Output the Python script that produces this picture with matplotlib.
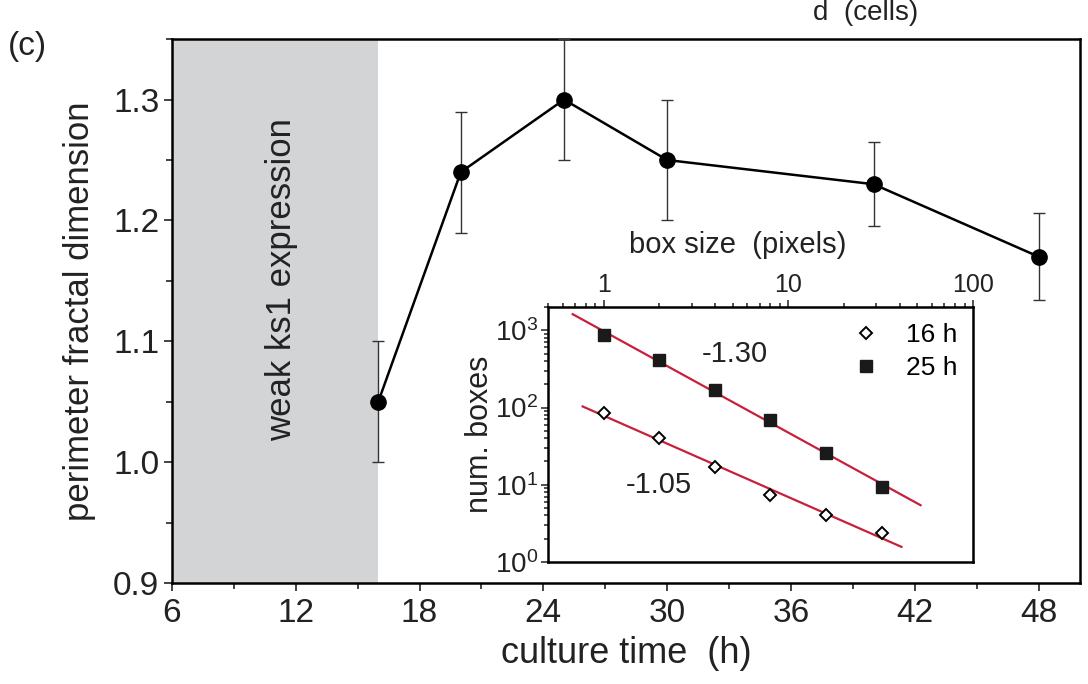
import numpy as np
import matplotlib
matplotlib.use("Agg")
import matplotlib.pyplot as plt
from matplotlib.ticker import MultipleLocator, LogLocator, NullFormatter

plt.rcParams['font.family'] = ['Liberation Sans', 'DejaVu Sans']

# main panel: fractal dimension vs culture time
hours = [16, 20, 25, 30, 40, 48]
dim = [1.05, 1.24, 1.30, 1.25, 1.23, 1.17]
dim_err = [0.05, 0.05, 0.05, 0.05, 0.035, 0.036]
weak_span = (6, 16)

# inset: box counting
box = [1, 2, 4, 8, 16, 32]
n16 = [84, 40, 17, 7.4, 4.1, 2.35]
n25 = [865, 410, 171, 69, 25.5, 9.4]
fit16_range = [0.77, 41]
fit25_range = [0.68, 52]

txt = '#222222'

fig = plt.figure(figsize=(10.88, 6.84), dpi=100)
ax = fig.add_axes([0.158, 0.1477, 0.8346, 0.795])

ax.axvspan(weak_span[0], weak_span[1], color='#d3d4d6', lw=0, zorder=0)
ax.errorbar(hours, dim, yerr=dim_err, color='black', lw=1.8, marker='o', ms=11,
            ecolor='#333333', elinewidth=1.0, capsize=4, capthick=1.0, zorder=3)
ax.text(11.3, 1.151, 'weak ks1 expression', rotation=90, ha='center', va='center',
        fontsize=25, color=txt)

ax.set_xlim(6, 50)
ax.set_ylim(0.9, 1.35)
ax.xaxis.set_major_locator(MultipleLocator(6))
ax.xaxis.set_minor_locator(MultipleLocator(3))
ax.yaxis.set_major_locator(MultipleLocator(0.1))
ax.yaxis.set_minor_locator(MultipleLocator(0.05))
ax.tick_params(which='both', direction='out', width=1.2, labelsize=24, colors=txt)
ax.tick_params(axis='x', pad=5)
ax.tick_params(axis='y', pad=3)
ax.tick_params(which='major', length=6)
ax.tick_params(which='minor', length=4)
for s in ax.spines.values():
    s.set_linewidth(1.8)
ax.set_xlabel('culture time  (h)', fontsize=26, labelpad=5, color=txt)
ax.set_ylabel('perimeter fractal dimension', fontsize=25, labelpad=12, color=txt)

fig.text(8 / 1088, 1 - 47 / 684, '(c)', fontsize=24, ha='left', va='center', color=txt)
fig.text(813 / 1088, 1.0, 'd  (cells)', fontsize=20, ha='left', va='top', color=txt)

# inset
ins = fig.add_axes([548 / 1088, 1 - 562 / 684, 425 / 1088, 255 / 684])
ins.set_xscale('log')
ins.set_yscale('log')

for n, rng in [(n16, fit16_range), (n25, fit25_range)]:
    k, b = np.polyfit(np.log10(box), np.log10(n), 1)
    xf = np.array(rng)
    ins.plot(xf, 10 ** (k * np.log10(xf) + b), color='#c8203c', lw=1.6, zorder=2)

ins.plot(box, n16, ls='none', marker='D', ms=6, mfc='white', mec='black', mew=1.4,
         label='16 h', zorder=3)
ins.plot(box, n25, ls='none', marker='s', ms=8.5, mfc='#1a1a1a', mec='#1a1a1a',
         label='25 h', zorder=3)

ins.text(3.4, 500, '-1.30', fontsize=21, ha='left', va='center', color=txt)
ins.text(1.32, 10, '-1.05', fontsize=21, ha='left', va='center', color=txt)

ins.set_xlim(0.5, 100)
ins.set_ylim(1, 2000)
ins.xaxis.tick_top()
ins.xaxis.set_label_position('top')
ins.set_xlabel('box size  (pixels)', fontsize=21, color=txt)
ins.xaxis.set_label_coords(0.446, 1.21)
ins.set_ylabel('num. boxes', fontsize=22, labelpad=0, color=txt)
ins.xaxis.set_major_locator(LogLocator(base=10, numticks=10))
ins.xaxis.set_minor_locator(LogLocator(base=10, subs=np.arange(2, 10), numticks=10))
ins.xaxis.set_minor_formatter(NullFormatter())
ins.xaxis.set_major_formatter(plt.FuncFormatter(lambda v, p: '%g' % v))
ins.yaxis.set_major_locator(LogLocator(base=10, numticks=10))
ins.yaxis.set_minor_locator(LogLocator(base=10, subs=np.arange(2, 10), numticks=10))
ins.yaxis.set_minor_formatter(NullFormatter())
ins.tick_params(which='both', direction='out', width=1.1, labelsize=18, colors=txt, pad=2)
ins.tick_params(axis='y', labelsize=20)
ins.tick_params(which='major', length=5)
ins.tick_params(which='minor', length=3)
for s in ins.spines.values():
    s.set_linewidth(1.8)

ins.legend(loc='upper right', frameon=False, fontsize=19, handletextpad=1.0,
           borderaxespad=0.2, labelspacing=0.35, handlelength=1.0)

fig.savefig('out.png', dpi=100)
